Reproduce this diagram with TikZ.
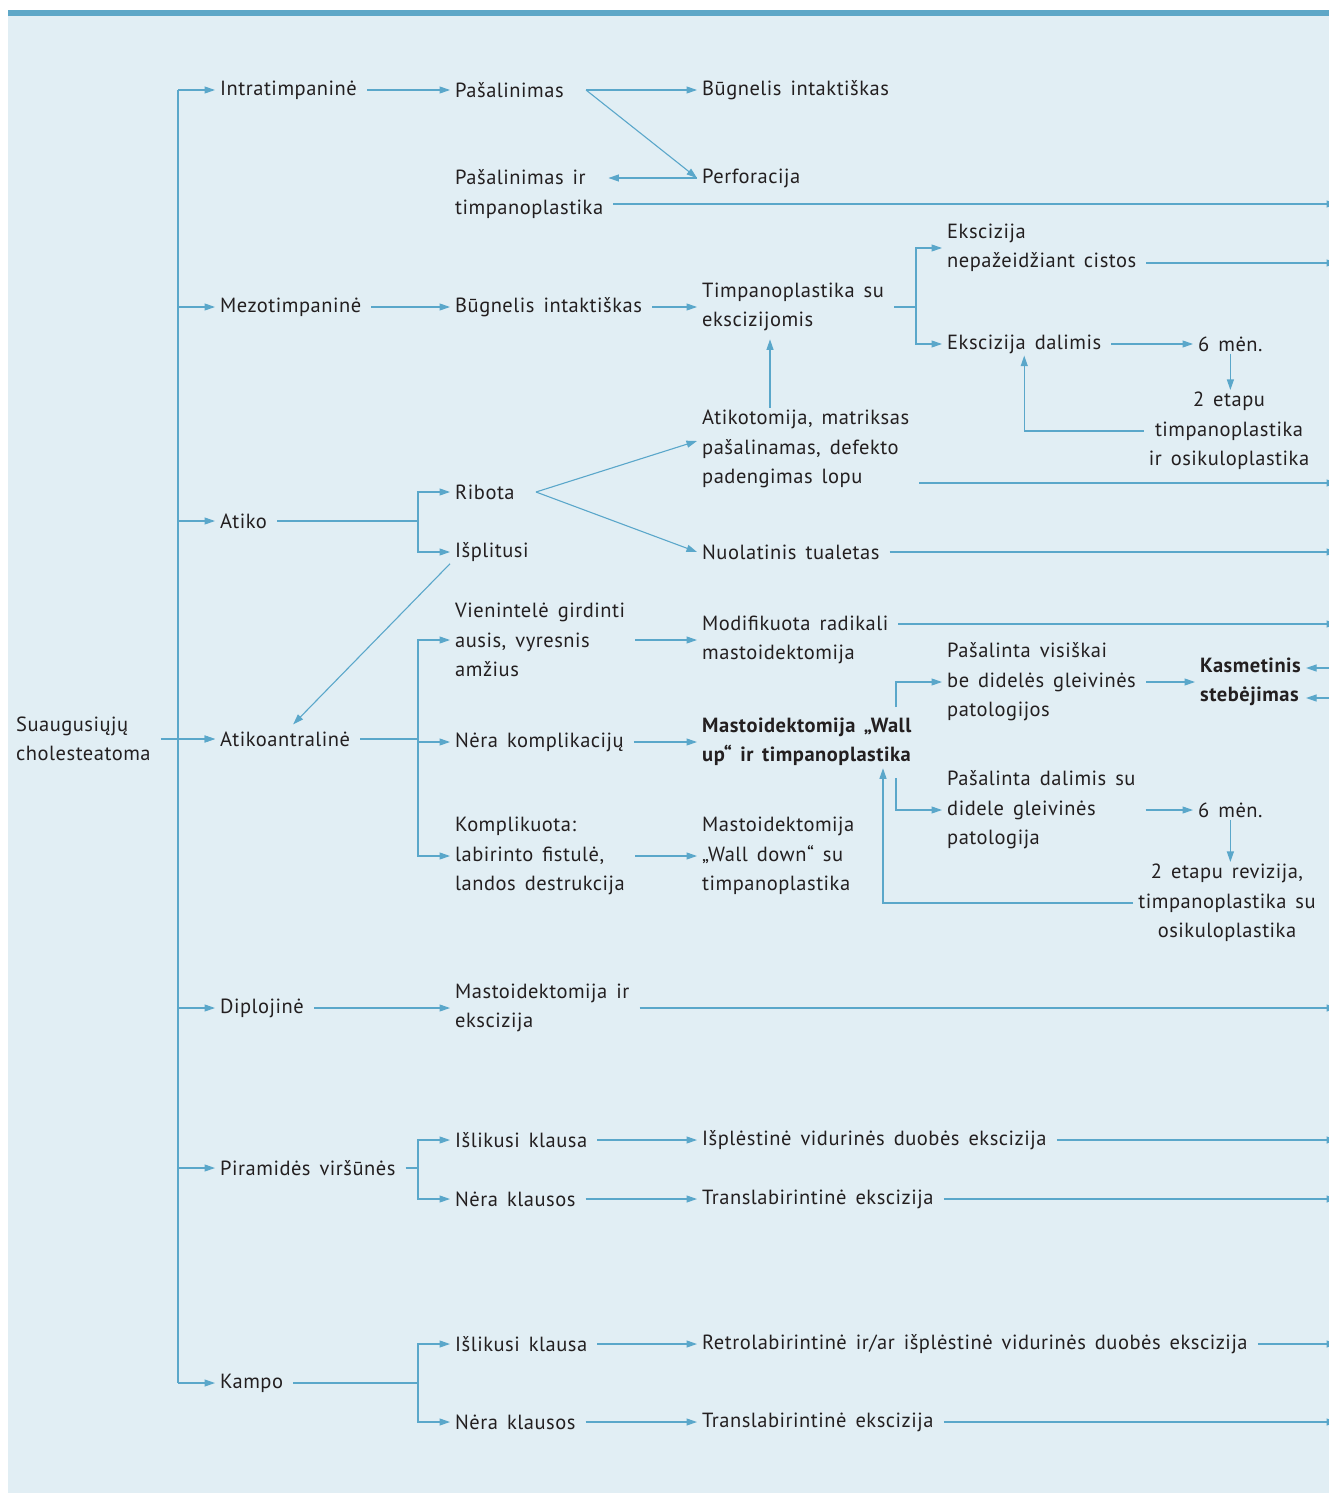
\documentclass[tikz,border=0pt]{standalone}
\usepackage{fontspec}
\setmainfont{PT Sans}[WordSpace=1.5, LetterSpace=2.5]
\usetikzlibrary{arrows.meta}
\definecolor{bgblue}{HTML}{E1EEF4}
\definecolor{barblue}{HTML}{5EA7C7}
\definecolor{lineblue}{HTML}{5AA7CA}
\definecolor{ink}{HTML}{231F20}
\tikzstyle{TreeNode} = [anchor=west, align=left, inner xsep=5pt, inner ysep=2pt, text=ink, font=\fontsize{20.5}{29.5}\selectfont]
\tikzstyle{BoldNode} = [TreeNode, font=\fontsize{20.5}{29.5}\selectfont\bfseries]
\tikzstyle{CenterNode} = [TreeNode, anchor=center, align=center]
\tikzstyle{link} = [draw=lineblue, line width=1.1pt, -{Triangle[length=10.5pt,width=7pt]}]
\tikzstyle{lead} = [link, shorten <=5pt]
\tikzstyle{wire} = [draw=lineblue, line width=1.1pt]

\begin{document}
\begin{tikzpicture}[x=1pt, y=-1pt]

    \fill[white] (0,0) rectangle (1329,1493);
    \fill[bgblue] (8,16) rectangle (1329,1493);
    \fill[barblue] (8,10) rectangle (1329,16);
    \useasboundingbox (0,0) rectangle (1329,1493);

    \node[TreeNode] (root) at (11,739) {Suaugusiųjų\\cholesteatoma};
    \node[TreeNode] (intra) at (215,90) {Intratimpaninė};
    \node[TreeNode] (mezo) at (215,307) {Mezotimpaninė};
    \node[TreeNode] (atiko) at (215,521) {Atiko};
    \node[TreeNode] (atikoant) at (215,739) {Atikoantralinė};
    \node[TreeNode] (diplo) at (215,1008) {Diplojinė};
    \node[TreeNode] (piram) at (215,1168) {Piramidės viršūnės};
    \node[TreeNode] (kampo) at (215,1383) {Kampo};

    % intratimpanine
    \node[TreeNode] (intra-pasal) at (450,90) {Pašalinimas};
    \node[TreeNode] (intra-bugn) at (697,90) {Būgnelis intaktiškas};
    \node[TreeNode] (intra-perf) at (697,178) {Perforacija};
    \node[TreeNode] (intra-timp) at (450,194) {Pašalinimas ir\\timpanoplastika};

    % mezotimpanine
    \node[TreeNode] (mezo-bugn) at (450,307) {Būgnelis intaktiškas};
    \node[TreeNode] (mezo-timp) at (697,307) {Timpanoplastika su\\ekscizijomis};
    \node[TreeNode] (mezo-eksc) at (942,248) {Ekscizija\\nepažeidžiant cistos};
    \node[TreeNode] (mezo-dal) at (942,344) {Ekscizija dalimis};
    \node[TreeNode] (mezo-6men) at (1193,344) {6 mėn.};
    \node[CenterNode] (mezo-etap) at (1229,431) {2 etapu\\timpanoplastika\\ir osikuloplastika};

    % atiko
    \node[TreeNode] (atiko-rib) at (450,492) {Ribota};
    \node[TreeNode] (atiko-isp) at (450,552) {Išplitusi};
    \node[TreeNode] (atiko-atik) at (697,449) {Atikotomija, matriksas\\pašalinamas, defekto\\padengimas lopu};
    \node[TreeNode] (atiko-tual) at (697,552) {Nuolatinis tualetas};

    % atikoantraline
    \node[TreeNode] (ant-vien) at (450,640) {Vienintelė girdinti\\ausis, vyresnis\\amžius};
    \node[TreeNode] (ant-nera) at (450,742) {Nėra komplikacijų};
    \node[TreeNode] (ant-kompl) at (450,856) {Komplikuota:\\labirinto fistulė,\\landos destrukcija};
    \node[TreeNode] (ant-mod) at (697,640) {Modifikuota radikali\\mastoidektomija};
    \node[BoldNode] (ant-up) at (697,742) {Mastoidektomija „Wall\\up“ ir timpanoplastika};
    \node[TreeNode] (ant-down) at (697,856) {Mastoidektomija\\„Wall down“ su\\timpanoplastika};
    \node[TreeNode] (ant-vis) at (942,682) {Pašalinta visiškai\\be didelės gleivinės\\patologijos};
    \node[TreeNode] (ant-dal) at (942,810) {Pašalinta dalimis su\\didele gleivinės\\patologija};
    \node[BoldNode] (ant-kasm) at (1195,682) {Kasmetinis\\stebėjimas};
    \node[TreeNode] (ant-6men) at (1193,810) {6 mėn.};
    \node[CenterNode] (ant-rev) at (1227,903) {2 etapu revizija,\\timpanoplastika su\\osikuloplastika};

    % diplojine, piramides, kampo
    \node[TreeNode] (diplo-mast) at (450,1008) {Mastoidektomija ir\\ekscizija};
    \node[TreeNode] (piram-isl) at (450,1140) {Išlikusi klausa};
    \node[TreeNode] (piram-nera) at (450,1199) {Nėra klausos};
    \node[TreeNode] (piram-ispl) at (697,1140) {Išplėstinė vidurinės duobės ekscizija};
    \node[TreeNode] (piram-trans) at (697,1199) {Translabirintinė ekscizija};
    \node[TreeNode] (kampo-isl) at (450,1344) {Išlikusi klausa};
    \node[TreeNode] (kampo-nera) at (450,1422) {Nėra klausos};
    \node[TreeNode] (kampo-retro) at (697,1344) {Retrolabirintinė ir/ar išplėstinė vidurinės duobės ekscizija};
    \node[TreeNode] (kampo-trans) at (697,1422) {Translabirintinė ekscizija};

    % junctions and free ends
    \coordinate (trunk-top) at (178,90);
    \coordinate (trunk-bot) at (178,1383);
    \coordinate (pasal-j) at (586,90);
    \coordinate (mezo-j) at (916,307);
    \coordinate (atiko-j) at (418,521);
    \coordinate (rib-j) at (536,492);
    \coordinate (ant-j) at (418,739);
    \coordinate (up-a) at (896,707);
    \coordinate (up-b) at (896,778);
    \coordinate (piram-j) at (418,1168);
    \coordinate (kampo-j) at (418,1383);
    \coordinate (edge-timp) at (1337,204);
    \coordinate (edge-eksc) at (1337,263);
    \coordinate (edge-atik) at (1337,483);
    \coordinate (edge-tual) at (1337,552);
    \coordinate (edge-mod) at (1337,624);
    \coordinate (edge-k1) at (1336,668);
    \coordinate (edge-k2) at (1336,698);
    \coordinate (edge-mast) at (1337,1008);
    \coordinate (edge-ispl) at (1337,1140);
    \coordinate (edge-trans1) at (1337,1199);
    \coordinate (edge-retro) at (1337,1344);
    \coordinate (edge-trans2) at (1337,1422);

    % trunk
    \draw[wire] (trunk-top) -- (trunk-bot);
    \foreach \n in {intra, mezo, atiko, atikoant, diplo, piram, kampo}
        \draw[link] (\n -| trunk-top) -- (\n);
    \draw[lead] (root) -- (atikoant);

    % intratimpanine
    \draw[lead] (intra) -- (intra-pasal);
    \draw[link] (pasal-j) -- (intra-bugn);
    \draw[link] (pasal-j) -- (intra-perf.west);
    \draw[link] (intra-perf.west) -- (intra-timp.east |- intra-perf.west);
    \draw[lead] (intra-timp.east |- edge-timp) -- (edge-timp);

    % mezotimpanine
    \draw[lead] (mezo) -- (mezo-bugn);
    \draw[lead] (mezo-bugn) -- (mezo-timp);
    \draw[wire, shorten <=5pt] (mezo-timp) -- (mezo-j);
    \draw[link] (mezo-j) |- (mezo-eksc);
    \draw[link] (mezo-j) |- (mezo-dal);
    \draw[lead] (mezo-eksc.east |- edge-eksc) -- (edge-eksc);
    \draw[lead] (mezo-dal) -- (mezo-6men);
    \draw[link] (mezo-6men.south) -- (mezo-6men.south |- mezo-etap.north);
    \draw[link] (mezo-etap.west) -| (mezo-dal.south);

    % atiko
    \draw[wire, shorten <=5pt] (atiko) -- (atiko-j);
    \draw[link] (atiko-j) |- (atiko-rib);
    \draw[link] (atiko-j) |- (atiko-isp);
    \draw[link] (rib-j) -- ([yshift=8pt]atiko-atik.west);
    \draw[link] (rib-j) -- (atiko-tual.west);
    \draw[link] ([xshift=73pt]atiko-atik.north west) -- ([xshift=73pt, yshift=-6pt]mezo-timp.south west);
    \draw[lead] (atiko-atik.east |- edge-atik) -- (edge-atik);
    \draw[lead] (atiko-tual) -- (edge-tual);
    \draw[link] (atiko-isp.south west) -- ([xshift=8pt, yshift=5pt]atikoant.north);

    % atikoantraline
    \draw[wire, shorten <=5pt] (atikoant) -- (ant-j);
    \draw[link] (ant-j) |- (ant-vien);
    \draw[link] (ant-j) |- (ant-nera);
    \draw[link] (ant-j) |- (ant-kompl);
    \draw[lead] (ant-vien) -- (ant-mod);
    \draw[lead] (ant-nera) -- (ant-up);
    \draw[lead] (ant-kompl) -- (ant-down);
    \draw[lead] (ant-mod.east |- edge-mod) -- (edge-mod);
    \draw[link] (up-a) |- (ant-vis);
    \draw[link] (up-b) |- (ant-dal);
    \draw[lead] (ant-vis) -- (ant-kasm);
    \draw[link] (edge-k1) -- (ant-kasm.east |- edge-k1);
    \draw[link] (edge-k2) -- (ant-kasm.east |- edge-k2);
    \draw[lead] (ant-dal) -- (ant-6men);
    \draw[link] (ant-6men.south) -- (ant-6men.south |- ant-rev.north);
    \draw[link] (ant-rev.west) -| ([xshift=186pt]ant-up.south west);

    % diplojine, piramides, kampo
    \draw[lead] (diplo) -- (diplo-mast);
    \draw[lead] (diplo-mast) -- (edge-mast);
    \draw[wire, shorten <=5pt] (piram) -- (piram-j);
    \draw[link] (piram-j) |- (piram-isl);
    \draw[link] (piram-j) |- (piram-nera);
    \draw[lead] (piram-isl) -- (piram-ispl);
    \draw[lead] (piram-nera) -- (piram-trans);
    \draw[lead] (piram-ispl) -- (edge-ispl);
    \draw[lead] (piram-trans) -- (edge-trans1);
    \draw[wire, shorten <=5pt] (kampo) -- (kampo-j);
    \draw[link] (kampo-j) |- (kampo-isl);
    \draw[link] (kampo-j) |- (kampo-nera);
    \draw[lead] (kampo-isl) -- (kampo-retro);
    \draw[lead] (kampo-nera) -- (kampo-trans);
    \draw[lead] (kampo-retro) -- (edge-retro);
    \draw[lead] (kampo-trans) -- (edge-trans2);

\end{tikzpicture}
\end{document}
